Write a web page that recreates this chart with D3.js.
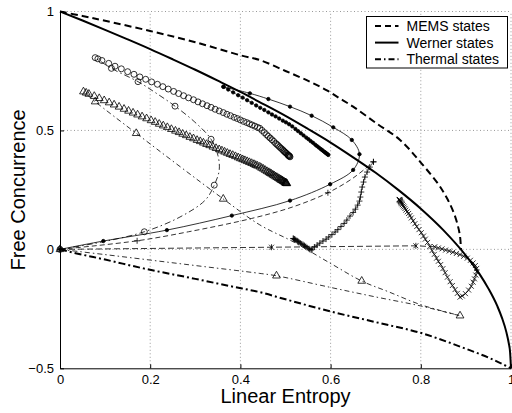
<!DOCTYPE html>
<html lang="en">
<head>
<meta charset="UTF-8">
<title>Free concurrence vs linear entropy</title>
<script src="https://cdn.jsdelivr.net/npm/d3@7"></script>
<style>
  body { margin: 0; background: #fff; }
  svg { display: block; font-family: "Liberation Sans", Arial, Helvetica, sans-serif; }
</style>
</head>
<body>
<svg id="chart" width="512" height="413"></svg>
<script>
// ticks
var xTicks = [0, 0.2, 0.4, 0.6, 0.8, 1];
var yTicks = [-0.5, 0, 0.5, 1];

// bounding families: [linear entropy, free concurrence]
var mems = [[0,1],[0.05,0.981],[0.1,0.961],[0.2,0.918],[0.3,0.871],[0.4,0.816],[0.443,0.796],[0.5,0.75],
  [0.554,0.705],[0.593,0.667],[0.62,0.635],[0.65,0.6],[0.7,0.532],[0.754,0.46],[0.8,0.365],[0.84,0.271],
  [0.855,0.225],[0.865,0.189],[0.876,0.139],[0.884,0.085],[0.8875,0.046],[0.889,0]];
var werner = [[0,1],[0.05,0.962],[0.1,0.923],[0.15,0.883],[0.2,0.842],[0.25,0.799],[0.3,0.755],[0.35,0.709],
  [0.4,0.662],[0.45,0.612],[0.5,0.561],[0.55,0.506],[0.6,0.449],[0.65,0.387],[0.7,0.322],[0.75,0.25],
  [0.8,0.171],[0.85,0.081],[0.9,-0.026],[0.93,-0.103],[0.95,-0.165],[0.97,-0.24],[0.98,-0.288],
  [0.99,-0.35],[0.995,-0.394],[0.998,-0.433],[1,-0.5]];
var thermal = [[0,0],[0.037,-0.017],[0.1,-0.043],[0.185,-0.08],[0.3,-0.124],[0.384,-0.157],[0.443,-0.18],
  [0.5,-0.21],[0.602,-0.262],[0.7,-0.306],[0.803,-0.353],[0.9,-0.418],[0.95,-0.455],[1,-0.5]];

// sparse paths out of the origin
var dotLoop = [[0,0],[0.096,0.035],[0.237,0.081],[0.381,0.142],[0.51,0.205],[0.599,0.274],[0.65,0.334],
  [0.664,0.4],[0.647,0.46],[0.606,0.513],[0.558,0.562],[0.51,0.6],[0.462,0.632],[0.421,0.656],[0.363,0.683]];
var circLoop = [[0,0],[0.093,0.031],[0.187,0.074],[0.266,0.136],[0.322,0.207],[0.342,0.27],[0.353,0.333],
  [0.35,0.396],[0.335,0.463],[0.299,0.535],[0.255,0.602],[0.213,0.657],[0.173,0.705],[0.114,0.761],[0.078,0.806]];
var circMarks = [[0,0],[0.187,0.074],[0.342,0.27],[0.335,0.463],[0.255,0.602],[0.173,0.705],[0.114,0.761]];
var triLoop = [[0,0],[0.1,-0.022],[0.2,-0.045],[0.3,-0.068],[0.443,-0.101],[0.48,-0.111],[0.6,-0.16],
  [0.7,-0.2],[0.8,-0.238],[0.887,-0.279],[0.802,-0.234],[0.728,-0.178],[0.669,-0.133],[0.599,-0.058],
  [0.517,0.032],[0.443,0.103],[0.362,0.212],[0.169,0.488],[0.078,0.621],[0.052,0.663]];
var triMarks = [[0,0],[0.48,-0.111],[0.887,-0.279],[0.669,-0.133],[0.362,0.212],[0.169,0.488],[0.078,0.621]];
var plusLoop = [[0,0],[0.171,0.036],[0.285,0.074],[0.425,0.13],[0.517,0.179],[0.594,0.238],[0.65,0.3],[0.695,0.368]];
var plusMarks = [[0,0],[0.171,0.036],[0.594,0.238],[0.695,0.368]];
var crossLoop = [[0,0],[0.469,0.009],[0.789,0.015],[0.831,0.011]];
var crossMarks = [[0.469,0.009],[0.789,0.015]];

// dense trajectories
var circDense = [[0.078,0.806],[0.084,0.801],[0.093,0.794],[0.108,0.782],[0.122,0.77],[0.136,0.759],[0.15,0.747],[0.164,0.736],
  [0.177,0.725],[0.19,0.715],[0.203,0.704],[0.216,0.694],[0.228,0.684],[0.24,0.674],[0.252,0.664],[0.263,0.655],
  [0.274,0.646],[0.285,0.637],[0.296,0.629],[0.306,0.62],[0.316,0.612],[0.326,0.604],[0.335,0.597],[0.344,0.589],
  [0.353,0.582],[0.362,0.575],[0.37,0.568],[0.378,0.562],[0.386,0.555],[0.393,0.55],[0.4,0.544],[0.407,0.538],
  [0.414,0.533],[0.42,0.528],[0.426,0.523],[0.432,0.518],[0.438,0.513],[0.443,0.509],[0.448,0.5],[0.453,0.491],
  [0.458,0.482],[0.462,0.475],[0.466,0.468],[0.47,0.461],[0.474,0.454],[0.478,0.446],[0.481,0.441],[0.484,0.436],
  [0.487,0.43],[0.49,0.425],[0.493,0.42],[0.495,0.416],[0.497,0.412],[0.499,0.409],[0.501,0.405],[0.503,0.402],
  [0.505,0.398],[0.506,0.396],[0.507,0.394],[0.508,0.393],[0.509,0.391],[0.51,0.389]];
var triDense = [[0.052,0.663],[0.058,0.658],[0.064,0.653],[0.076,0.644],[0.087,0.635],[0.098,0.626],[0.109,0.617],[0.12,0.608],
  [0.131,0.599],[0.142,0.59],[0.152,0.582],[0.162,0.574],[0.172,0.566],[0.182,0.558],[0.192,0.55],[0.202,0.542],
  [0.211,0.535],[0.22,0.527],[0.229,0.52],[0.238,0.513],[0.247,0.505],[0.256,0.498],[0.264,0.492],[0.272,0.485],
  [0.28,0.479],[0.288,0.472],[0.296,0.466],[0.304,0.459],[0.311,0.454],[0.318,0.448],[0.325,0.442],[0.332,0.437],
  [0.339,0.431],[0.346,0.425],[0.353,0.42],[0.359,0.415],[0.365,0.41],[0.371,0.405],[0.377,0.4],[0.383,0.396],
  [0.389,0.391],[0.395,0.386],[0.4,0.382],[0.405,0.378],[0.41,0.374],[0.415,0.37],[0.42,0.366],[0.425,0.362],
  [0.43,0.358],[0.434,0.354],[0.438,0.351],[0.443,0.347],[0.447,0.342],[0.451,0.338],[0.455,0.333],[0.459,0.328],
  [0.463,0.324],[0.466,0.32],[0.469,0.317],[0.472,0.313],[0.475,0.31],[0.478,0.306],[0.481,0.303],[0.484,0.299],
  [0.487,0.296],[0.489,0.293],[0.491,0.291],[0.493,0.289],[0.495,0.286],[0.497,0.284],[0.499,0.281],[0.5,0.28],
  [0.501,0.279],[0.502,0.278],[0.503,0.277]];
var dotDense = [[0.362,0.684],[0.373,0.672],[0.384,0.66],[0.395,0.648],[0.405,0.638],[0.415,0.627],[0.425,0.616],
  [0.435,0.605],[0.444,0.595],[0.453,0.586],[0.462,0.576],[0.47,0.567],[0.478,0.559],[0.486,0.55],[0.494,0.541],
  [0.501,0.534],[0.508,0.526],[0.515,0.517],[0.522,0.506],[0.528,0.497],[0.534,0.488],[0.54,0.479],[0.546,0.47],
  [0.551,0.463],[0.556,0.455],[0.561,0.448],[0.566,0.44],[0.57,0.434],[0.574,0.428],[0.578,0.422],[0.581,0.418],
  [0.584,0.413],[0.587,0.409],[0.589,0.406],[0.591,0.403],[0.593,0.4],[0.595,0.397]];
var plusDense = [[0.695,0.368],[0.687,0.346],[0.681,0.325],[0.676,0.304],[0.673,0.283],[0.67,0.262],[0.668,0.241],
  [0.666,0.22],[0.664,0.203],[0.66,0.186],[0.655,0.169],[0.65,0.155],[0.643,0.14],[0.636,0.123],[0.63,0.109],
  [0.623,0.096],[0.616,0.083],[0.61,0.073],[0.603,0.062],[0.596,0.052],[0.59,0.043],[0.583,0.035],[0.576,0.026],
  [0.57,0.018],[0.564,0.01],[0.559,0.001],[0.557,-0.003],[0.554,0],[0.552,0.003],[0.548,0.007],[0.545,0.012],
  [0.542,0.016],[0.539,0.02],[0.536,0.023],[0.533,0.026],[0.53,0.03],[0.528,0.033],[0.526,0.036],[0.523,0.039],
  [0.521,0.042],[0.52,0.043],[0.518,0.045],[0.517,0.046]];
var crossDense = [[0.831,0.011],[0.839,0.006],[0.847,0.002],[0.855,-0.003],[0.863,-0.007],[0.871,-0.012],
  [0.879,-0.017],[0.887,-0.022],[0.895,-0.029],[0.903,-0.037],[0.91,-0.046],[0.916,-0.057],[0.921,-0.068],
  [0.924,-0.08],[0.924,-0.094],[0.922,-0.108],[0.919,-0.124],[0.916,-0.138],[0.912,-0.155],[0.906,-0.171],
  [0.899,-0.186],[0.892,-0.196],[0.887,-0.201],[0.881,-0.185],[0.876,-0.169],[0.87,-0.152],[0.865,-0.136],
  [0.859,-0.117],[0.854,-0.098],[0.849,-0.081],[0.844,-0.064],[0.839,-0.05],[0.835,-0.037],[0.83,-0.021],
  [0.825,-0.005],[0.82,0.012],[0.815,0.029],[0.81,0.043],[0.806,0.056],[0.801,0.07],[0.796,0.083],[0.791,0.096],
  [0.787,0.108],[0.783,0.12],[0.779,0.132],[0.776,0.142],[0.773,0.151],[0.77,0.158],[0.767,0.165],[0.765,0.172],
  [0.763,0.178],[0.761,0.183],[0.759,0.188],[0.758,0.192],[0.757,0.195],[0.756,0.198],[0.755,0.201],
  [0.754,0.204],[0.754,0.206],[0.753,0.208],[0.753,0.209],[0.752,0.21]];

var legendItems = [
  {label: "MEMS states", dash: "6,4"},
  {label: "Werner states", dash: null},
  {label: "Thermal states", dash: "6,3,1.5,3"}
];

var svg = d3.select("#chart");
var x = d3.scaleLinear().domain([0, 1]).range([60, 511]);
var y = d3.scaleLinear().domain([-0.5, 1]).range([368.3, 11.5]);

// dotted grid
var grid = svg.append("g").attr("stroke", "#999").attr("stroke-width", 1).attr("stroke-dasharray", "1,2.5");
grid.selectAll("line.gx").data(xTicks.slice(1)).enter().append("line")
  .attr("x1", function(d) { return x(d); }).attr("x2", function(d) { return x(d); })
  .attr("y1", y(-0.5)).attr("y2", y(1));
grid.selectAll("line.gy").data(yTicks.slice(1)).enter().append("line")
  .attr("x1", x(0)).attr("x2", x(1))
  .attr("y1", function(d) { return y(d); }).attr("y2", function(d) { return y(d); });

var line = d3.line().x(function(d) { return x(d[0]); }).y(function(d) { return y(d[1]); });
var smooth = d3.line().x(function(d) { return x(d[0]); }).y(function(d) { return y(d[1]); })
  .curve(d3.curveCatmullRom.alpha(0.5));
var mono = d3.line().x(function(d) { return x(d[0]); }).y(function(d) { return y(d[1]); })
  .curve(d3.curveMonotoneX);

function drawPath(data, gen, width, dash) {
  svg.append("path").datum(data)
    .attr("d", gen).attr("fill", "none").attr("stroke", "#000")
    .attr("stroke-width", width).attr("stroke-dasharray", dash);
}

// thin trajectories
drawPath(dotLoop, smooth, 0.8, null);
drawPath(circLoop, smooth, 0.8, "6,3,1.5,3");
drawPath(triLoop, smooth, 0.8, "5,3,1.5,3");
drawPath(plusLoop, smooth, 0.8, "5,3");
drawPath(crossLoop, line, 0.8, "6,3");
drawPath(dotDense, line, 0.6, null);
drawPath(plusDense, line, 0.6, null);
drawPath(crossDense, line, 0.6, null);

// bounding curves
drawPath(mems, smooth, 2, "7,4");
drawPath(werner, mono, 2, null);
drawPath(thermal, mono, 2, "7,3,2,3");

// markers
var tri = d3.symbol().type(d3.symbolTriangle).size(26);
function marks(data, kind) {
  var g = svg.append("g").attr("stroke", "#000").attr("stroke-width", 0.8);
  var sel = g.selectAll("path").data(data).enter().append("path")
    .attr("transform", function(d) { return "translate(" + x(d[0]) + "," + y(d[1]) + ")"; });
  if (kind === "o") sel.attr("d", d3.symbol().type(d3.symbolCircle).size(28)).attr("fill", "none");
  if (kind === "^") sel.attr("d", tri).attr("fill", "none");
  if (kind === ".") sel.attr("d", d3.symbol().type(d3.symbolCircle).size(9)).attr("fill", "#000");
  if (kind === "+") sel.attr("d", "M-3,0H3M0,-3V3").attr("fill", "none");
  if (kind === "x") sel.attr("d", "M-2.5,-2.5L2.5,2.5M-2.5,2.5L2.5,-2.5").attr("fill", "none");
  if (kind === "*") sel.attr("d", "M-2.5,-2.5L2.5,2.5M-2.5,2.5L2.5,-2.5M0,-3V3").attr("fill", "none");
}
marks(dotLoop, ".");
marks(circMarks, "o");
marks(triMarks, "^");
marks(plusMarks, "+");
marks(crossMarks, "*");
marks(circDense, "o");
marks(triDense, "^");
marks(dotDense, ".");
marks(plusDense, "+");
marks(crossDense, "x");

// axes
var fmt = d3.format("~g");
var xAxis = svg.append("g").attr("transform", "translate(0," + y(-0.5) + ")")
  .call(d3.axisBottom(x).tickValues(xTicks).tickFormat(fmt).tickSize(-4).tickSizeOuter(0).tickPadding(6.5));
var yAxis = svg.append("g").attr("transform", "translate(" + x(0) + ",0)")
  .call(d3.axisLeft(y).tickValues(yTicks).tickFormat(fmt).tickSize(-4).tickSizeOuter(0).tickPadding(6));
[xAxis, yAxis].forEach(function(a) {
  a.selectAll("text").attr("font-size", 13).attr("fill", "#000");
  a.select(".domain").attr("stroke", "#000").attr("stroke-width", 1);
  a.attr("font-family", null);
});

svg.append("text").attr("x", (x(0) + x(1)) / 2).attr("y", 403)
  .attr("text-anchor", "middle").attr("font-size", 20).text("Linear Entropy");
svg.append("text").attr("transform", "translate(25," + (y(-0.5) + y(1)) / 2 + ") rotate(-90)")
  .attr("text-anchor", "middle").attr("font-size", 20).text("Free Concurrence");

// legend
var lg = svg.append("g").attr("transform", "translate(366.5,16.5)");
lg.append("rect").attr("width", 141).attr("height", 51.5)
  .attr("fill", "#fff").attr("stroke", "#000").attr("stroke-width", 1);
var row = lg.selectAll("g.item").data(legendItems).enter().append("g")
  .attr("transform", function(d, i) { return "translate(0," + (9.5 + i * 16.6) + ")"; });
row.append("line").attr("x1", 8.5).attr("x2", 32).attr("stroke", "#000").attr("stroke-width", 2)
  .attr("stroke-dasharray", function(d) { return d.dash; });
row.append("text").attr("x", 40).attr("dy", "0.35em").attr("font-size", 14)
  .text(function(d) { return d.label; });
</script>
</body>
</html>
